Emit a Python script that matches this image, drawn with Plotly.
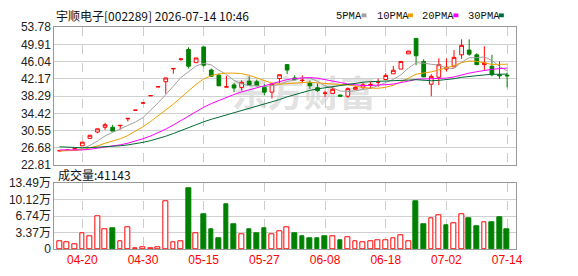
import numpy as np
import plotly.graph_objects as go

W, H = 578, 276

dates = ["04-15", "04-16", "04-17", "04-20", "04-21", "04-22", "04-23", "04-24", "04-27", "04-28",
         "04-29", "04-30", "05-06", "05-07", "05-08", "05-11", "05-12", "05-13", "05-14", "05-15",
         "05-18", "05-19", "05-20", "05-21", "05-22", "05-25", "05-26", "05-27", "05-28", "05-29",
         "06-01", "06-02", "06-03", "06-04", "06-05", "06-08", "06-09", "06-10", "06-11", "06-12",
         "06-15", "06-16", "06-17", "06-18", "06-22", "06-23", "06-24", "06-25", "06-26", "06-29",
         "06-30", "07-02", "07-03", "07-06", "07-07", "07-08", "07-09", "07-10", "07-13", "07-14"]

opens = [26.00, 26.10, 26.40, 27.11, 28.80, 30.22, 31.29, 31.29, 31.65, 33.20,
         35.10, 36.74, 38.38, 40.37, 41.52, 44.40, 46.55, 48.76, 45.80, 49.33,
         44.15, 43.00, 40.30, 40.81, 40.24, 41.66, 41.52, 40.24, 39.18, 42.24,
         45.36, 42.37, 41.78, 41.24, 40.17, 38.93, 38.90, 38.54, 38.26, 39.82,
         40.24, 40.80, 41.40, 42.02, 43.30, 44.36, 47.77, 51.25, 46.07, 40.96,
         42.52, 44.36, 44.86, 47.56, 48.62, 47.56, 45.36, 45.00, 43.09, 43.00]
highs = [26.20, 26.35, 26.60, 27.96, 29.50, 30.95, 32.30, 31.86, 31.75, 33.30,
         35.13, 36.76, 38.40, 40.39, 42.37, 44.55, 46.65, 49.27, 46.86, 49.40,
         44.50, 43.30, 42.87, 41.30, 41.81, 42.73, 42.00, 40.96, 41.17, 43.09,
         45.36, 42.94, 42.94, 41.81, 41.10, 39.53, 40.39, 38.54, 40.24, 40.53,
         41.24, 41.52, 42.23, 43.44, 45.07, 46.07, 48.41, 51.30, 46.56, 43.23,
         46.78, 46.78, 48.62, 51.04, 51.04, 47.91, 49.48, 47.56, 46.07, 43.58]
lows = [25.85, 26.00, 26.30, 27.11, 28.80, 29.95, 30.70, 30.43, 30.80, 32.57,
        35.10, 36.74, 38.38, 40.37, 38.83, 43.30, 46.20, 44.50, 45.80, 44.90,
        42.73, 40.60, 40.30, 39.18, 39.53, 40.60, 40.50, 38.47, 37.76, 41.17,
        43.23, 41.90, 41.17, 39.89, 39.25, 38.11, 38.90, 38.26, 37.90, 39.82,
        39.89, 39.89, 40.39, 42.02, 43.30, 44.36, 47.77, 45.22, 42.60, 38.26,
        40.74, 43.80, 44.86, 46.64, 47.35, 45.22, 43.94, 42.73, 42.16, 40.24]
closes = [26.05, 26.17, 26.50, 27.96, 29.50, 30.95, 31.86, 30.43, 31.72, 33.29,
          35.13, 36.76, 38.40, 40.39, 42.37, 44.50, 46.63, 45.01, 46.86, 45.22,
          42.73, 40.60, 40.39, 40.10, 41.38, 40.70, 40.60, 39.18, 40.96, 43.09,
          44.15, 41.95, 41.85, 40.60, 39.53, 38.96, 39.82, 38.26, 39.96, 40.24,
          40.81, 40.85, 41.45, 42.94, 44.08, 46.07, 48.41, 47.35, 42.60, 42.73,
          45.36, 44.79, 46.99, 49.69, 47.70, 45.36, 45.71, 43.09, 42.87, 42.85]
# volume in 万 (10k shares)
volumes = [1.50, 1.30, 0.90, 3.25, 2.70, 6.75, 4.00, 4.35, 1.50, 4.40,
           0.20, 0.33, 0.13, 0.45, 9.90, 1.36, 1.50, 12.45, 3.25, 7.14,
           4.09, 2.14, 9.09, 5.00, 3.05, 4.09, 3.30, 4.35, 3.05, 3.70,
           4.48, 3.31, 2.60, 2.14, 2.14, 2.60, 2.53, 1.75, 2.34, 1.56,
           1.36, 1.56, 1.88, 1.88, 2.14, 2.92, 1.56, 9.73, 5.06, 6.36,
           6.94, 4.87, 5.19, 7.14, 6.29, 4.67, 5.58, 5.45, 6.42, 4.1143]
# estimated closes before the first visible day (for the moving averages)
prior_closes = [29.2, 29.0, 28.8, 28.6, 28.4, 28.2, 28.0, 27.8, 27.6, 27.4,
                27.1, 26.9, 26.7, 26.5, 26.4, 26.3, 26.2, 26.1, 26.0, 26.0,
                25.9, 26.0, 26.1, 26.0, 25.9, 26.0, 26.1, 26.0, 25.95]

ma_periods = [5, 10, 20, 30]
ma_names = ["5PMA", "10PMA", "20PMA", "30PMA"]
ma_colors = ["#a0a0a0", "#f0a000", "#ff00ff", "#006a33"]

price_ticks = [22.81, 26.68, 30.55, 34.42, 38.29, 42.17, 46.04, 49.91, 53.78]
price_tick_text = ["22.81", "26.68", "30.55", "34.42", "38.29", "42.17", "46.04", "49.91", "53.78"]
vol_ticks = [0, 3.37, 6.74, 10.12, 13.49]
vol_tick_text = ["0", "3.37万", "6.74万", "10.12万", "13.49万"]
date_tick_idx = [3, 11, 19, 27, 35, 43, 51, 59]
title_text = "宇顺电子[002289] 2026-07-14 10:46"
vol_label = "成交量:41143"
watermark = "东方财富"

RED = "#ff0000"
GREEN = "#008000"

n = len(closes)
xs = list(range(n))
full = np.array(prior_closes + closes)
ma_series = []
for p in ma_periods:
    vals = np.convolve(full, np.ones(p) / p, mode="valid")
    ma_series.append(vals[-n:])

prev = [prior_closes[-1]] + closes[:-1]
vol_up = [c >= pc for c, pc in zip(closes, prev)]


def px_x(v):
    return v / W


def px_y(v):
    return 1 - v / H


fig = go.Figure()

for name, col, vals in zip(ma_names, ma_colors, ma_series):
    fig.add_trace(go.Scatter(x=xs, y=vals, mode="lines", name=name,
                             line=dict(color=col, width=1), xaxis="x", yaxis="y",
                             hoverinfo="skip"))

fig.add_trace(go.Candlestick(
    x=xs, open=opens, high=highs, low=lows, close=closes,
    increasing=dict(line=dict(color=RED, width=1), fillcolor="#ffffff"),
    decreasing=dict(line=dict(color=GREEN, width=1), fillcolor=GREEN),
    whiskerwidth=0, xaxis="x", yaxis="y", name="K"))

fig.add_trace(go.Bar(
    x=xs, y=volumes, width=0.62,
    marker=dict(color=["#ffffff" if u else GREEN for u in vol_up],
                line=dict(color=[RED if u else GREEN for u in vol_up], width=1)),
    xaxis="x2", yaxis="y2", name="VOL"))

xr = [-0.69, 60.13]
xdom = [px_x(55), px_x(522)]
axis_common = dict(showline=True, linecolor="#999999", linewidth=1, mirror=True,
                   zeroline=False, ticks="", fixedrange=True)

fig.update_layout(
    width=W, height=H, margin=dict(l=0, r=0, t=0, b=0),
    paper_bgcolor="#ffffff", plot_bgcolor="#ffffff", showlegend=False,
    font=dict(family="Liberation Sans, Arial, sans-serif", size=12, color="#222222"),
    bargap=0,
    xaxis=dict(domain=xdom, range=xr, anchor="y", tickvals=date_tick_idx,
               ticktext=[dates[i] for i in date_tick_idx], showticklabels=False,
               showgrid=True, gridcolor="#cccccc", griddash="dash", gridwidth=1,
               rangeslider=dict(visible=False), **axis_common),
    yaxis=dict(domain=[px_y(166.5), px_y(21.2)], range=[22.81, 53.78], anchor="x",
               tickvals=price_ticks, ticktext=price_tick_text,
               showgrid=True, gridcolor="#d0d0d0", gridwidth=1,
               tickfont=dict(size=12, color="#222222"), **axis_common),
    xaxis2=dict(domain=xdom, range=xr, anchor="y2", tickvals=date_tick_idx,
                ticktext=[dates[i] for i in date_tick_idx], showticklabels=True,
                tickfont=dict(size=12, color=RED),
                showgrid=True, gridcolor="#cccccc", griddash="dash", gridwidth=1,
                **axis_common),
    yaxis2=dict(domain=[px_y(255), px_y(185.7)], range=[0, 13.49], anchor="x2",
                tickvals=vol_ticks, ticktext=vol_tick_text,
                showgrid=True, gridcolor="#d0d0d0", gridwidth=1,
                tickfont=dict(size=12, color="#222222",
                              family="Liberation Sans, Noto Sans CJK SC, sans-serif"),
                **axis_common),
)

annotations = [
    dict(text=title_text, x=px_x(55), y=px_y(8.5), xref="paper", yref="paper",
         xanchor="left", yanchor="middle", showarrow=False,
         font=dict(family="Noto Sans CJK SC, sans-serif", size=12, color="#111111")),
    dict(text=vol_label, x=px_x(57), y=px_y(176.5), xref="paper", yref="paper",
         xanchor="left", yanchor="middle", showarrow=False,
         font=dict(family="Noto Sans CJK SC, sans-serif", size=12, color="#111111")),
]
shapes = []
legend_text_x = [338, 380, 425, 471.5]
legend_mark_x = [366, 413, 459, 505]
for lx, mx, name, col in zip(legend_text_x, legend_mark_x, ma_names, ma_colors):
    annotations.append(dict(text=name, x=px_x(lx), y=px_y(9), xref="paper", yref="paper",
                            xanchor="left", yanchor="middle", showarrow=False,
                            font=dict(family="Liberation Mono, monospace", size=10.5,
                                      color="#111111")))
    shapes.append(dict(type="rect", xref="paper", yref="paper",
                       x0=px_x(mx), x1=px_x(mx + 5), y0=px_y(10.8), y1=px_y(6.8),
                       line=dict(width=0), fillcolor=col))

shapes.append(dict(type="rect", xref="paper", yref="paper", layer="below",
                   x0=px_x(225), x1=px_x(390), y0=px_y(113), y1=px_y(77),
                   line=dict(width=0), fillcolor="rgba(0,0,0,0)",
                   label=dict(text=watermark,
                              font=dict(family="Noto Sans CJK SC, sans-serif", size=36,
                                        color="#e2e2e2", weight="bold"))))

fig.update_layout(annotations=annotations, shapes=shapes)

fig.write_html("out.html")
